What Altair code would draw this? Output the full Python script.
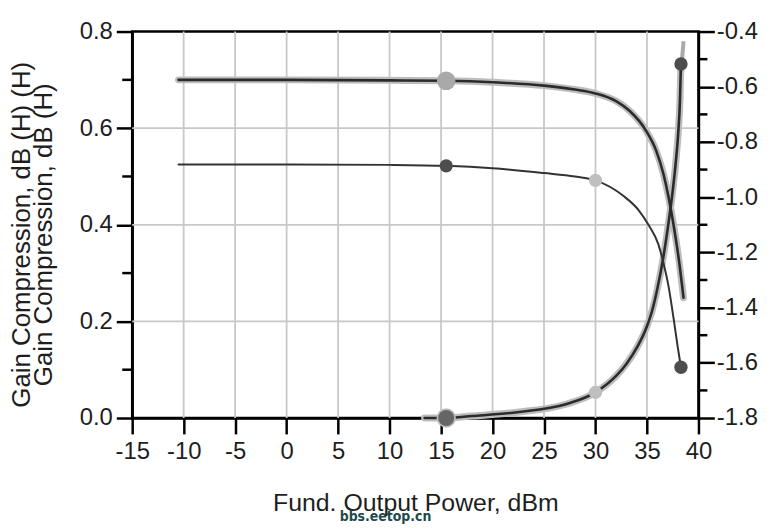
import altair as alt
import pandas as pd

# ---------------- data ----------------
# upper thick curve (gray halo + dark line)
a_x = [-10.5, 0, 10, 15.5, 20, 25, 28, 30, 32, 33.3, 34.9, 35.9, 36.6, 37.1, 37.5, 38.1, 38.55]
a_y = [0.700, 0.700, 0.699, 0.698, 0.695, 0.688, 0.680, 0.672, 0.656, 0.636, 0.595, 0.553, 0.505, 0.457, 0.410, 0.327, 0.249]

# middle thin curve
b_x = [-10.5, 0, 10, 15.5, 20, 25, 28, 30, 32.7, 34.2, 35.2, 36.1, 36.6, 37.1, 37.6, 38.0, 38.3]
b_y = [0.525, 0.525, 0.524, 0.522, 0.517, 0.507, 0.500, 0.492, 0.460, 0.430, 0.398, 0.360, 0.321, 0.272, 0.204, 0.145, 0.105]

# rising thick curve (gray halo + dark line)
c_x = [13.4, 15.5, 18, 22.4, 27.2, 30, 32, 33, 34, 35, 35.5, 36, 36.5, 37, 37.5, 37.8, 38.05, 38.2, 38.3]
c_y = [0.0, 0.0, 0.004, 0.012, 0.029, 0.053, 0.087, 0.112, 0.145, 0.190, 0.222, 0.267, 0.322, 0.390, 0.470, 0.530, 0.595, 0.655, 0.733]

# short gray stub above the top of the rising curve
s_x = [38.3, 38.55]
s_y = [0.715, 0.780]

# markers
big_light_x, big_light_y = [15.5], [0.698]
big_dark_x, big_dark_y = [15.5], [0.0]
small_dark_x, small_dark_y = [15.5, 38.3, 38.3], [0.522, 0.733, 0.105]
small_light_x, small_light_y = [30.0, 30.0], [0.492, 0.053]

# axes
x_ticks = [-15, -10, -5, 0, 5, 10, 15, 20, 25, 30, 35, 40]
x_grid = [-10, -5, 0, 5, 10, 15, 20, 25, 30, 35]
y_ticks = [0.0, 0.2, 0.4, 0.6, 0.8]
y_minor = [0.1, 0.3, 0.5, 0.7]
y_grid = [0.2, 0.4, 0.6]
r_ticks = [-1.8, -1.6, -1.4, -1.2, -1.0, -0.8, -0.6, -0.4]
r_minor = [-1.7, -1.5, -1.3, -1.1, -0.9, -0.7, -0.5]

x_title = "Fund. Output Power, dBm"
y_title = ["Gain Compression, dB (H) (H)",
           "Gain Compression, dB (H)"]
watermark = ["bbs.eetop.cn"]

# ---------------- chart ----------------
FONT = "Liberation Sans"
TXT = "#1e1e1e"
W, H = 570, 389

xscale = alt.Scale(domain=[-15, 40], nice=False, zero=False)
yscale = alt.Scale(domain=[0, 0.8], nice=False, zero=False)
rscale = alt.Scale(domain=[-1.8, -0.4], nice=False, zero=False)

common = dict(grid=False, tickSize=16, tickWidth=2.5, tickColor="black",
              domainColor="black", domainWidth=2.5, labelFont=FONT, labelFontSize=24,
              labelColor=TXT, labelOverlap=False, labelFlush=False)

xaxis = alt.Axis(values=x_ticks, labelPadding=6,
                 labelExpr="datum.value < 0 ? '-' + format(-datum.value, 'd') : format(datum.value, 'd')",
                 title=x_title, titleFont=FONT, titleFontSize=25, titleFontWeight="normal",
                 titleColor=TXT, titlePadding=27, **common)
yaxis = alt.Axis(values=y_ticks, labelPadding=4, format=".1f",
                 title=y_title, titleFont=FONT, titleFontSize=26, titleFontWeight="normal",
                 titleColor=TXT, titlePadding=23, titleLineHeight=22, titleY=204, **common)
raxis = alt.Axis(orient="right", values=r_ticks, labelPadding=2,
                 labelExpr="datum.value < 0 ? '-' + format(-datum.value, '.1f') : format(datum.value, '.1f')",
                 title=None, **common)


def X(f):
    return alt.X(f, type="quantitative", scale=xscale, axis=xaxis)


def Y(f):
    return alt.Y(f, type="quantitative", scale=yscale, axis=yaxis)


def R(f):
    return alt.Y(f, type="quantitative", scale=rscale, axis=raxis)


def df(x, y):
    return pd.DataFrame({"x": x, "y": y})


grid_col = "#c8c8c8"
vgrid = alt.Chart(pd.DataFrame({"x": x_grid})).mark_rule(color=grid_col, strokeWidth=1.8).encode(x=X("x"))
hgrid = alt.Chart(pd.DataFrame({"y": y_grid})).mark_rule(color=grid_col, strokeWidth=1.8).encode(y=Y("y"))
lminor = alt.Chart(pd.DataFrame({"y": y_minor})).mark_rule(color="black", strokeWidth=2.5).encode(
    y=Y("y"), x=alt.value(-10), x2=alt.value(0))


def line(x, y, color, width):
    return alt.Chart(df(x, y)).mark_line(color=color, strokeWidth=width, interpolate="monotone",
                                         strokeCap="round").encode(x=X("x"), y=Y("y"))


haloA = line(a_x, a_y, "#bdbdbd", 7)
lineA = line(a_x, a_y, "#2b2b2b", 2.6)
haloC = line(c_x, c_y, "#bdbdbd", 7)
lineC = line(c_x, c_y, "#2b2b2b", 2.6)
lineB = line(b_x, b_y, "#333333", 2.0)
stub = alt.Chart(df(s_x, s_y)).mark_line(color="#a9a9a9", strokeWidth=4).encode(x=X("x"), y=Y("y"))


def pts(x, y, color, size):
    return alt.Chart(df(x, y)).mark_circle(color=color, size=size, opacity=1).encode(x=X("x"), y=Y("y"))


m1 = pts(big_light_x, big_light_y, "#a9a9a9", 350)
m2 = pts(big_dark_x, big_dark_y, "#bdbdbd", 380)
m2b = pts(big_dark_x, big_dark_y, "#666666", 260)
m3 = pts(small_dark_x, small_dark_y, "#4d4d4d", 180)
m4 = pts(small_light_x, small_light_y, "#bfbfbf", 180)

wm = alt.Chart(pd.DataFrame({"t": watermark})).mark_text(
    font="DejaVu Sans Condensed", fontWeight="bold", fontSize=14, color="#1d4a4c"
).encode(text="t:N", x=alt.value(255), y=alt.value(489))

left = alt.layer(vgrid, hgrid, lminor, haloA, haloC, stub, lineA, lineC, lineB,
                 m1, m2, m2b, m3, m4, wm)

rdummy = alt.Chart(pd.DataFrame({"r": r_ticks})).mark_point(opacity=0).encode(y=R("r"))
rminor = alt.Chart(pd.DataFrame({"r": r_minor})).mark_rule(color="black", strokeWidth=2.5).encode(
    y=R("r"), x=alt.value(W), x2=alt.value(W + 9))
right = alt.layer(rdummy, rminor)

chart = alt.layer(left, right).resolve_scale(y="independent").properties(
    width=W, height=H,
    autosize=alt.AutoSizeParams(type="none"),
    padding={"left": 125, "top": 22, "right": 70, "bottom": 108},
).configure_view(stroke="black", strokeWidth=2.5)

chart.save("out.html", embed_options={"renderer": "svg", "actions": False})
